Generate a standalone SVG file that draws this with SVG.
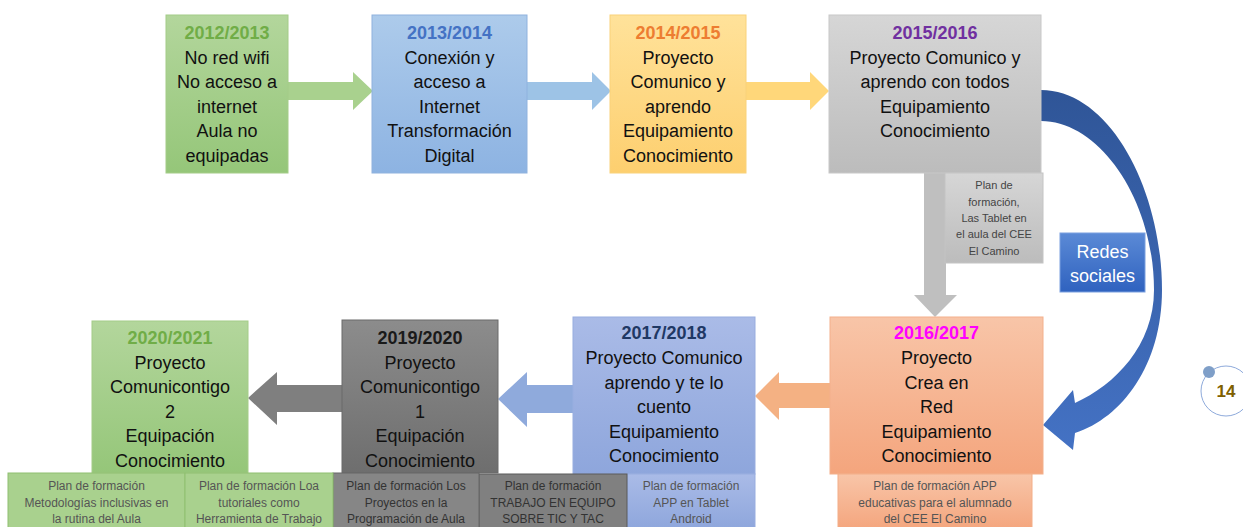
<svg xmlns="http://www.w3.org/2000/svg" width="1243" height="527" viewBox="0 0 1243 527">
<defs>
<linearGradient id="gGreen" x1="0" y1="0" x2="0" y2="1"><stop offset="0" stop-color="#b3d69c"/><stop offset="1" stop-color="#95c679"/></linearGradient>
<linearGradient id="gBlue" x1="0" y1="0" x2="0" y2="1"><stop offset="0" stop-color="#adcbeb"/><stop offset="1" stop-color="#8db3e2"/></linearGradient>
<linearGradient id="gYellow" x1="0" y1="0" x2="0" y2="1"><stop offset="0" stop-color="#ffe29a"/><stop offset="1" stop-color="#fdcf6f"/></linearGradient>
<linearGradient id="gGray" x1="0" y1="0" x2="0" y2="1"><stop offset="0" stop-color="#d6d6d6"/><stop offset="1" stop-color="#bcbcbc"/></linearGradient>
<linearGradient id="gSalmon" x1="0" y1="0" x2="0" y2="1"><stop offset="0" stop-color="#f8c5a8"/><stop offset="1" stop-color="#f4a57d"/></linearGradient>
<linearGradient id="gPeri" x1="0" y1="0" x2="0" y2="1"><stop offset="0" stop-color="#aabbe7"/><stop offset="1" stop-color="#8ea6dc"/></linearGradient>
<linearGradient id="gDark" x1="0" y1="0" x2="0" y2="1"><stop offset="0" stop-color="#8c8c8c"/><stop offset="1" stop-color="#6e6e6e"/></linearGradient>
<linearGradient id="gRedes" x1="0" y1="0" x2="0" y2="1"><stop offset="0" stop-color="#5b8ad6"/><stop offset="1" stop-color="#2f62bf"/></linearGradient>
<linearGradient id="gCurve" x1="0" y1="0" x2="0" y2="1"><stop offset="0" stop-color="#2f5597"/><stop offset="1" stop-color="#4472c4"/></linearGradient>
</defs>
<style>
text{font-family:"Liberation Sans",Arial,sans-serif;text-anchor:middle}
.t{font-size:18px;fill:#111}
.h{font-size:18px;font-weight:bold}
.s{font-size:12px;fill:#555}
.sd{font-size:12px;fill:#333}
.xs{font-size:11px;fill:#444}
.box{stroke-width:1}
</style>
<g id="connectors">
<polygon points="288,82 353,82 353,72 373,91 353,110 353,100 288,100" fill="#a9d18e"/>
<polygon points="527,82 592,82 592,72 611,91 592,110 592,100 527,100" fill="#9dc3e6"/>
<polygon points="746,82 810,82 810,72 829,91 810,110 810,100 746,100" fill="#ffd77a"/>
<polygon points="924,173 946,173 946,295 957,295 935,317 914,295 924,295" fill="#bfbfbf"/>
<polygon points="830,383 779,383 779,372 755,396 779,420 779,408 830,408" fill="#f4b183"/>
<polygon points="573,385 527,385 527,372 498,399 527,427 527,413 573,413" fill="#8faadc"/>
<polygon points="342,385 277,385 277,372 248,398 277,425 277,412 342,412" fill="#7f7f7f"/>
<path d="M1041 90 C1110 90 1162 190 1162 290 C1162 365 1122 418 1075 433 L1073 450 L1043 425 L1073 390 L1075 403 C1115 385 1154 345 1154 290 C1154 200 1100 121 1041 121 Z" fill="url(#gCurve)"/>
</g>
<g id="n2012">
<rect x="166" y="15" width="122" height="158" fill="url(#gGreen)" stroke="#a4cc88" class="box"/>
<text x="227" y="39" class="h" fill="#70ad47">2012/2013</text>
<text x="227" y="64" class="t">No red wifi</text>
<text x="227" y="88" class="t">No acceso a</text>
<text x="227" y="113" class="t">internet</text>
<text x="227" y="137" class="t">Aula no</text>
<text x="227" y="162" class="t">equipadas</text>
</g>
<g id="n2013">
<rect x="372" y="15" width="155" height="158" fill="url(#gBlue)" stroke="#8fb2de" class="box"/>
<text x="449.5" y="39" class="h" fill="#4472c4">2013/2014</text>
<text x="449.5" y="64" class="t">Conexión y</text>
<text x="449.5" y="88" class="t">acceso a</text>
<text x="449.5" y="113" class="t">Internet</text>
<text x="449.5" y="137" class="t">Transformación</text>
<text x="449.5" y="162" class="t">Digital</text>
</g>
<g id="n2014">
<rect x="610" y="15" width="136" height="158" fill="url(#gYellow)" stroke="#f9d27a" class="box"/>
<text x="678" y="39" class="h" fill="#ed7d31">2014/2015</text>
<text x="678" y="64" class="t">Proyecto</text>
<text x="678" y="88" class="t">Comunico y</text>
<text x="678" y="113" class="t">aprendo</text>
<text x="678" y="137" class="t">Equipamiento</text>
<text x="678" y="162" class="t">Conocimiento</text>
</g>
<g id="n2015">
<rect x="829" y="15" width="212" height="158" fill="url(#gGray)" stroke="#c8c8c8" class="box"/>
<text x="935" y="39" class="h" fill="#7030a0">2015/2016</text>
<text x="935" y="64" class="t">Proyecto Comunico y</text>
<text x="935" y="88" class="t">aprendo con todos</text>
<text x="935" y="113" class="t">Equipamiento</text>
<text x="935" y="137" class="t">Conocimiento</text>
</g>
<g id="plan2015">
<rect x="945" y="173" width="98" height="90" fill="url(#gGray)" stroke="#c4c4c4" class="box"/>
<text x="994" y="189" class="xs">Plan de</text>
<text x="994" y="206" class="xs">formación,</text>
<text x="994" y="222" class="xs">Las Tablet en</text>
<text x="994" y="238" class="xs">el aula del CEE</text>
<text x="994" y="255" class="xs">El Camino</text>
</g>
<g id="redes">
<rect x="1060" y="233" width="85" height="59" fill="url(#gRedes)" stroke="#7aa0df" class="box"/>
<text x="1102.5" y="258" style="font-size:18px;fill:#fff">Redes</text>
<text x="1102.5" y="282" style="font-size:18px;fill:#fff">sociales</text>
</g>
<g id="n2016">
<rect x="830" y="317" width="213" height="157" fill="url(#gSalmon)" stroke="#f3b08c" class="box"/>
<text x="936.5" y="339" class="h" fill="#ff00ff">2016/2017</text>
<text x="936.5" y="364" class="t">Proyecto</text>
<text x="936.5" y="389" class="t">Crea en</text>
<text x="936.5" y="413" class="t">Red</text>
<text x="936.5" y="438" class="t">Equipamiento</text>
<text x="936.5" y="462" class="t">Conocimiento</text>
</g>
<g id="plan2016">
<rect x="838" y="474" width="194" height="56" fill="url(#gSalmon)" stroke="#f3ae88" class="box"/>
<text x="935" y="490" class="s">Plan de formación APP</text>
<text x="935" y="507" class="s">educativas para el alumnado</text>
<text x="935" y="523" class="s">del CEE El Camino</text>
</g>
<g id="n2017">
<rect x="573" y="317" width="182" height="157" fill="url(#gPeri)" stroke="#98addf" class="box"/>
<text x="664" y="339" class="h" fill="#1f3864">2017/2018</text>
<text x="664" y="364" class="t">Proyecto Comunico</text>
<text x="664" y="389" class="t">aprendo y te lo</text>
<text x="664" y="413" class="t">cuento</text>
<text x="664" y="438" class="t">Equipamiento</text>
<text x="664" y="462" class="t">Conocimiento</text>
</g>
<g id="plan2017">
<rect x="627" y="474" width="128" height="56" fill="url(#gPeri)" stroke="#98addf" class="box"/>
<text x="691" y="490" class="s">Plan de formación</text>
<text x="691" y="507" class="s">APP en Tablet</text>
<text x="691" y="523" class="s">Android</text>
</g>
<g id="planTrabajo">
<rect x="479" y="474" width="148" height="56" fill="#808080" stroke="#5a5a5a" class="box"/>
<text x="553" y="490" class="sd">Plan de formación</text>
<text x="553" y="507" class="sd">TRABAJO EN EQUIPO</text>
<text x="553" y="523" class="sd">SOBRE TIC Y TAC</text>
</g>
<g id="n2019">
<rect x="342" y="320" width="156" height="153" fill="url(#gDark)" stroke="#6a6a6a" class="box"/>
<text x="420" y="344" class="h" fill="#1a1a1a">2019/2020</text>
<text x="420" y="369" class="t">Proyecto</text>
<text x="420" y="393" class="t">Comunicontigo</text>
<text x="420" y="418" class="t">1</text>
<text x="420" y="442" class="t">Equipación</text>
<text x="420" y="467" class="t">Conocimiento</text>
</g>
<g id="planProyectos">
<rect x="333" y="473" width="146" height="57" fill="#868686" stroke="#666" class="box"/>
<text x="406" y="490" class="sd">Plan de formación Los</text>
<text x="406" y="507" class="sd">Proyectos en la</text>
<text x="406" y="523" class="sd">Programación de Aula</text>
</g>
<g id="n2020">
<rect x="92" y="321" width="156" height="152" fill="url(#gGreen)" stroke="#a4cc88" class="box"/>
<text x="170" y="344" class="h" fill="#70ad47">2020/2021</text>
<text x="170" y="369" class="t">Proyecto</text>
<text x="170" y="393" class="t">Comunicontigo</text>
<text x="170" y="418" class="t">2</text>
<text x="170" y="442" class="t">Equipación</text>
<text x="170" y="467" class="t">Conocimiento</text>
</g>
<g id="planMetodologias">
<rect x="8" y="473" width="177" height="57" fill="#a9d18e" stroke="#8fbf70" class="box"/>
<text x="96.5" y="490" class="s">Plan de formación</text>
<text x="96.5" y="507" class="s">Metodologías inclusivas en</text>
<text x="96.5" y="523" class="s">la rutina del Aula</text>
</g>
<g id="planTutoriales">
<rect x="185" y="473" width="148" height="57" fill="#a9d18e" stroke="#8fbf70" class="box"/>
<text x="259" y="490" class="s">Plan de formación Loa</text>
<text x="259" y="507" class="s">tutoriales como</text>
<text x="259" y="523" class="s">Herramienta de Trabajo</text>
</g>
<g id="pageNumber">
<circle cx="1226" cy="391" r="25" fill="#fff" stroke="#8eaadb" stroke-width="1"/>
<circle cx="1209" cy="372" r="6" fill="#7f9fc8"/>
<text x="1226" y="397" style="font-size:17px;font-weight:bold;fill:#7f6000">14</text>
</g>
</svg>
